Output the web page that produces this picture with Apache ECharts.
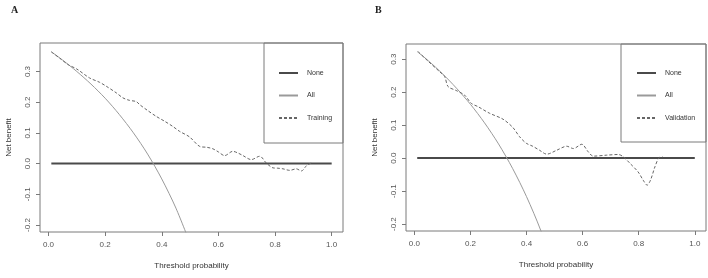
<!DOCTYPE html>
<html>
<head>
<meta charset="utf-8">
<script src="https://cdn.jsdelivr.net/npm/echarts@6/dist/echarts.min.js"></script>
<style>
  html, body { margin: 0; padding: 0; background: #fff; }
  #chart { width: 708px; height: 278px; }
</style>
</head>
<body>
<div id="chart"></div>
<script>
// tick positions
const xTicks = [0, 0.2, 0.4, 0.6, 0.8, 1.0]
const yTicks = [-0.2, -0.1, 0, 0.1, 0.2, 0.3]

// "None" reference line (both panels)
const noneX = [0.01, 1.0]
const noneY = [0, 0]

// panel A: training
const allAX = [0.01, 0.05, 0.1, 0.15, 0.2, 0.25, 0.3, 0.35, 0.4, 0.45, 0.5]
const allAY = [0.364, 0.337, 0.300, 0.259, 0.213, 0.160, 0.100, 0.031, -0.050, -0.145, -0.260]
const trainX = [0.01, 0.04, 0.07, 0.1, 0.145, 0.18, 0.204, 0.24, 0.263, 0.286, 0.31, 0.322, 0.35, 0.38,
  0.41, 0.439, 0.463, 0.498, 0.534, 0.56, 0.581, 0.6, 0.622, 0.651, 0.67, 0.687, 0.716, 0.746, 0.769,
  0.793, 0.81, 0.828, 0.852, 0.875, 0.893, 0.911, 0.928]
const trainY = [0.364, 0.343, 0.322, 0.308, 0.279, 0.265, 0.252, 0.230, 0.214, 0.206, 0.202, 0.192, 0.173, 0.154,
  0.138, 0.121, 0.105, 0.087, 0.056, 0.053, 0.048, 0.038, 0.026, 0.040, 0.034, 0.026, 0.013, 0.024, 0.002,
  -0.014, -0.015, -0.017, -0.022, -0.017, -0.024, -0.007, 0.002]

// panel B: validation
const allBX = [0.01, 0.05, 0.1, 0.15, 0.2, 0.25, 0.3, 0.35, 0.4, 0.45, 0.5]
const allBY = [0.323, 0.295, 0.256, 0.212, 0.163, 0.107, 0.043, -0.031, -0.117, -0.218, -0.340]
const validX = [0.013, 0.05, 0.09, 0.108, 0.12, 0.149, 0.179, 0.203, 0.227, 0.268, 0.316, 0.351, 0.375, 0.399,
  0.422, 0.446, 0.472, 0.508, 0.543, 0.567, 0.597, 0.620, 0.638, 0.686, 0.727, 0.745, 0.769, 0.798, 0.816,
  0.830, 0.842, 0.858, 0.873, 0.885]
const validY = [0.323, 0.293, 0.262, 0.247, 0.217, 0.205, 0.191, 0.166, 0.156, 0.136, 0.118, 0.093, 0.065, 0.045,
  0.036, 0.024, 0.012, 0.024, 0.036, 0.029, 0.042, 0.019, 0.006, 0.009, 0.011, 0.004, -0.016, -0.042, -0.067,
  -0.082, -0.067, -0.026, 0.002, 0.004]

const font = 'Liberation Sans, Arial, sans-serif'
const boxColor = '#7a7a7a'

function pairs(xs, ys) {
  return xs.map((x, i) => [x, ys[i]])
}

function xAxisFor(gridIndex) {
  return {
    type: 'value',
    gridIndex,
    min: -0.03,
    max: 1.04,
    name: 'Threshold probability',
    nameLocation: 'middle',
    nameGap: 30,
    nameTextStyle: { fontSize: 8, color: '#333', fontFamily: font },
    splitLine: { show: false },
    axisLine: { show: false, onZero: false },
    axisTick: { show: true, customValues: xTicks, length: 4, lineStyle: { color: boxColor } },
    axisLabel: {
      customValues: xTicks,
      formatter: (v) => v.toFixed(1),
      fontSize: 8,
      color: '#555',
      fontFamily: font,
      margin: 9,
    },
  }
}

function yAxisFor(gridIndex, min, max) {
  return {
    type: 'value',
    gridIndex,
    min,
    max,
    name: 'Net benefit',
    nameLocation: 'middle',
    nameRotate: 90,
    nameGap: 27,
    nameTextStyle: { fontSize: 8, color: '#333', fontFamily: font },
    splitLine: { show: false },
    axisLine: { show: false, onZero: false },
    axisTick: { show: true, customValues: yTicks, length: 4, lineStyle: { color: boxColor } },
    axisLabel: {
      customValues: yTicks,
      formatter: (v) => v.toFixed(1),
      rotate: 90,
      fontSize: 8,
      color: '#555',
      fontFamily: font,
      margin: 8,
    },
  }
}

function panelSeries(idx, allX, allY, curveName, curveX, curveY) {
  return [
    {
      name: 'None',
      type: 'line',
      xAxisIndex: idx,
      yAxisIndex: idx,
      data: pairs(noneX, noneY),
      symbol: 'none',
      itemStyle: { color: '#4a4a4a' },
      lineStyle: { color: '#4a4a4a', width: 2 },
      z: 2,
    },
    {
      name: 'All',
      type: 'line',
      xAxisIndex: idx,
      yAxisIndex: idx,
      data: pairs(allX, allY),
      symbol: 'none',
      smooth: 0.3,
      clip: true,
      itemStyle: { color: '#9a9a9a' },
      lineStyle: { color: '#9a9a9a', width: 1 },
      z: 3,
    },
    {
      name: curveName,
      type: 'line',
      xAxisIndex: idx,
      yAxisIndex: idx,
      data: pairs(curveX, curveY),
      symbol: 'none',
      smooth: 0.3,
      itemStyle: { color: '#666' },
      lineStyle: { color: '#666', width: 1, type: [3, 2] },
      z: 4,
    },
  ]
}

function legendFor(left, names) {
  return {
    orient: 'vertical',
    left,
    top: 64,
    data: names,
    itemWidth: 19,
    itemHeight: 10,
    itemGap: 14.5,
    selectedMode: false,
    itemStyle: { opacity: 0 },
    textStyle: { fontSize: 7, color: '#333', fontFamily: font, padding: [0, 0, 0, 4] },
  }
}

const chart = echarts.init(document.getElementById('chart'))
chart.setOption({
  animation: false,
  backgroundColor: '#fff',
  title: [
    { text: 'A', left: 6, top: 0, textStyle: { fontFamily: 'Liberation Serif, serif', fontWeight: 'bold', fontSize: 10, color: '#222' } },
    { text: 'B', left: 370, top: 0, textStyle: { fontFamily: 'Liberation Serif, serif', fontWeight: 'bold', fontSize: 10, color: '#222' } },
  ],
  grid: [
    { left: 40, top: 43, width: 303, height: 189, show: true, borderColor: boxColor, borderWidth: 1, backgroundColor: 'transparent' },
    { left: 406, top: 44, width: 300, height: 187, show: true, borderColor: boxColor, borderWidth: 1, backgroundColor: 'transparent' },
  ],
  xAxis: [xAxisFor(0), xAxisFor(1)],
  yAxis: [yAxisFor(0, -0.2228, 0.3928), yAxisFor(1, -0.221, 0.346)],
  legend: [
    legendFor(273, ['None', 'All', 'Training']),
    legendFor(631, ['None', 'All', 'Validation']),
  ],
  graphic: [
    { type: 'rect', shape: { x: 264, y: 43, width: 79, height: 100 }, style: { fill: 'none', stroke: boxColor, lineWidth: 1 }, z: 10 },
    { type: 'rect', shape: { x: 621, y: 44, width: 85, height: 98 }, style: { fill: 'none', stroke: boxColor, lineWidth: 1 }, z: 10 },
  ],
  series: [
    ...panelSeries(0, allAX, allAY, 'Training', trainX, trainY),
    ...panelSeries(1, allBX, allBY, 'Validation', validX, validY),
  ],
})
</script>
</body>
</html>
